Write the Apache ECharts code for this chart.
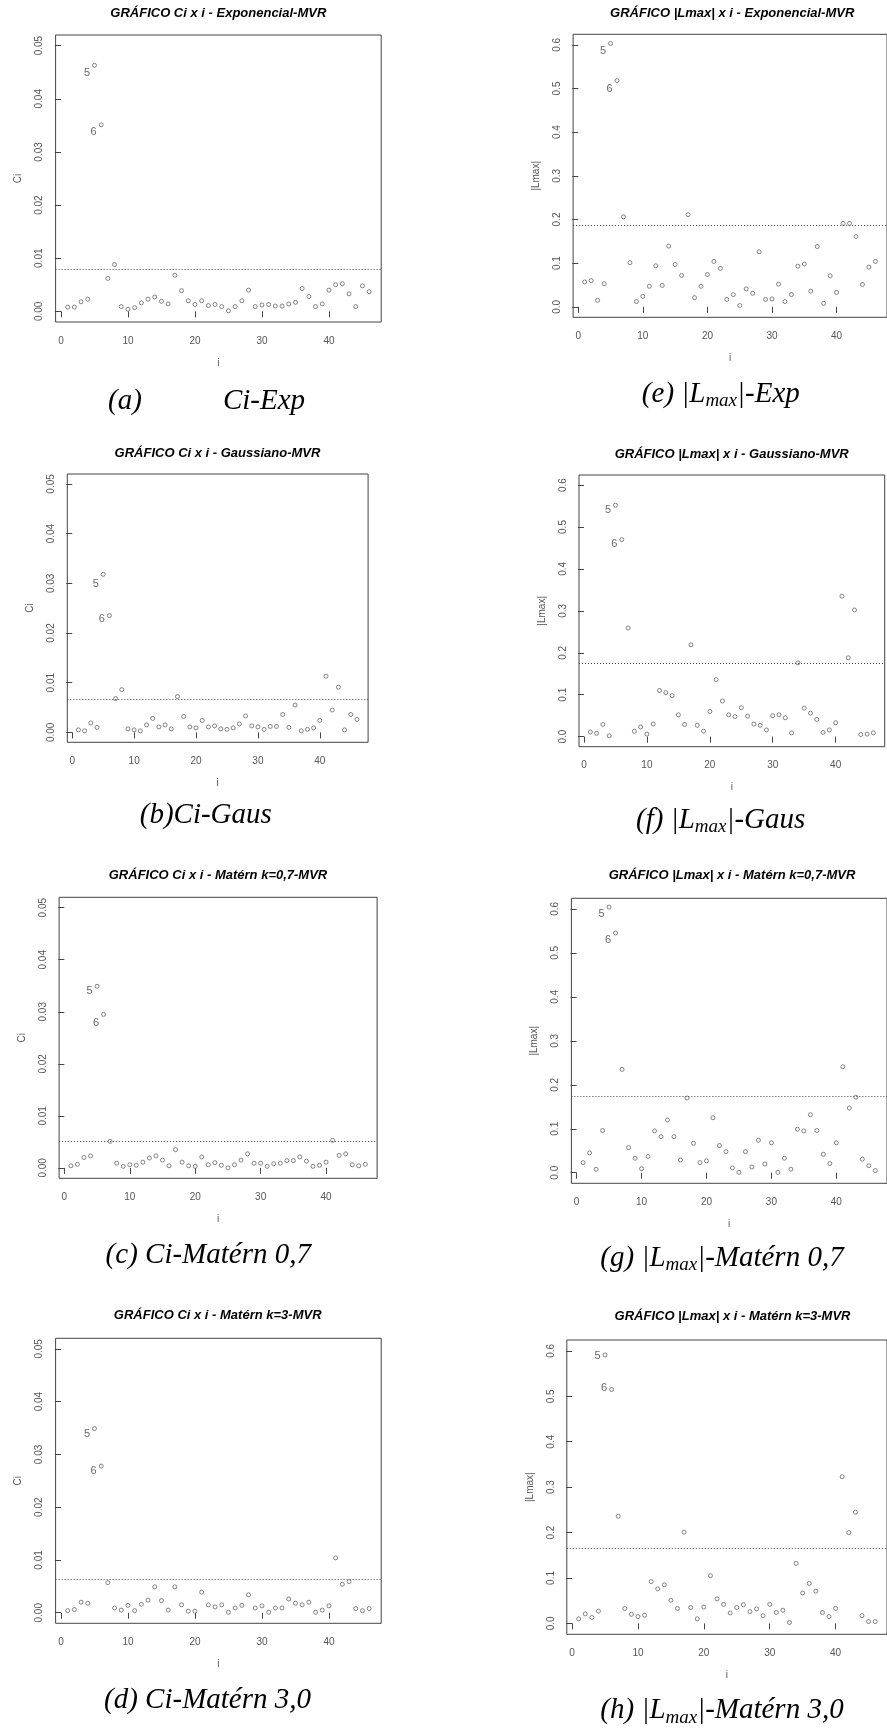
<!DOCTYPE html>
<html>
<head>
<meta charset="utf-8">
<script src="https://cdn.jsdelivr.net/npm/echarts@6/dist/echarts.min.js"></script>
<style>
html, body { margin: 0; padding: 0; background: #fff; }
#main { width: 887px; height: 1731px; }
</style>
</head>
<body>
<div id="main"></div>
<script>
// observation index
var obs = [1,2,3,4,5,6,7,8,9,10,11,12,13,14,15,16,17,18,19,20,21,22,23,24,25,26,27,28,29,30,
           31,32,33,34,35,36,37,38,39,40,41,42,43,44,45,46];

// Ci (Cook distance) per model
var ciExp = [0.0008,0.0008,0.0018,0.0023,0.0463,0.0351,0.0062,0.0088,0.0009,0.0004,0.0007,0.0016,0.0023,0.0027,0.0019,0.0014,
             0.0068,0.0039,0.0020,0.0013,0.0020,0.0011,0.0013,0.0009,0.0001,0.0009,0.0020,0.0040,0.0009,0.0012,0.0013,0.0010,
             0.0010,0.0014,0.0017,0.0043,0.0028,0.0009,0.0014,0.0040,0.0050,0.0052,0.0033,0.0009,0.0048,0.0037];
var ciGaus = [0.0005,0.0003,0.0019,0.0010,0.0318,0.0235,0.0068,0.0086,0.0007,0.0005,0.0003,0.0015,0.0028,0.0011,0.0015,0.0007,
              0.0072,0.0032,0.0011,0.0009,0.0024,0.0011,0.0013,0.0007,0.0006,0.0009,0.0017,0.0033,0.0013,0.0011,0.0006,0.0012,
              0.0012,0.0036,0.0010,0.0055,0.0003,0.0006,0.0009,0.0024,0.0113,0.0045,0.0091,0.0005,0.0036,0.0026];
var ciMat07 = [0.0004,0.0007,0.0020,0.0023,0.0349,0.0295,0.0051,0.0009,0.0003,0.0006,0.0005,0.0011,0.0019,0.0023,0.0015,0.0004,
               0.0035,0.0011,0.0004,0.0003,0.0021,0.0006,0.0010,0.0005,0.0000,0.0006,0.0015,0.0027,0.0009,0.0009,0.0003,0.0008,
               0.0009,0.0014,0.0014,0.0021,0.0013,0.0003,0.0005,0.0011,0.0053,0.0024,0.0027,0.0006,0.0004,0.0007];
var ciMat3 = [0.0004,0.0006,0.0020,0.0018,0.0349,0.0278,0.0057,0.0009,0.0005,0.0014,0.0004,0.0016,0.0024,0.0049,0.0023,0.0005,
              0.0049,0.0015,0.0003,0.0003,0.0039,0.0015,0.0011,0.0015,0.0001,0.0009,0.0014,0.0034,0.0009,0.0013,0.0001,0.0009,
              0.0009,0.0026,0.0018,0.0015,0.0020,0.0001,0.0005,0.0013,0.0104,0.0054,0.0059,0.0008,0.0004,0.0008];

// |Lmax| per model
var lmaxExp = [0.057,0.060,0.015,0.053,0.603,0.518,0.206,0.101,0.012,0.024,0.047,0.094,0.049,0.139,0.097,0.072,
               0.211,0.021,0.047,0.074,0.104,0.088,0.017,0.028,0.003,0.041,0.031,0.126,0.017,0.018,0.052,0.012,
               0.028,0.093,0.098,0.036,0.138,0.008,0.071,0.033,0.191,0.191,0.161,0.051,0.091,0.104];
var lmaxGaus = [0.011,0.008,0.029,0.002,0.552,0.470,0.259,0.013,0.023,0.006,0.030,0.110,0.105,0.098,0.052,0.029,
                0.219,0.027,0.013,0.060,0.136,0.085,0.052,0.048,0.069,0.049,0.030,0.027,0.016,0.050,0.052,0.045,
                0.009,0.176,0.068,0.056,0.041,0.010,0.016,0.033,0.335,0.188,0.302,0.005,0.006,0.009];
var lmaxMat07 = [0.023,0.045,0.008,0.096,0.604,0.545,0.235,0.057,0.033,0.009,0.037,0.095,0.082,0.120,0.082,0.029,
                 0.170,0.067,0.023,0.027,0.125,0.062,0.048,0.011,0.001,0.048,0.013,0.074,0.020,0.068,0.001,0.033,
                 0.008,0.099,0.095,0.132,0.096,0.042,0.021,0.068,0.241,0.147,0.172,0.031,0.016,0.005];
var lmaxMat3 = [0.010,0.021,0.013,0.027,0.591,0.515,0.236,0.033,0.020,0.015,0.018,0.092,0.076,0.085,0.051,0.033,
                0.201,0.035,0.010,0.036,0.105,0.054,0.042,0.023,0.035,0.041,0.026,0.032,0.017,0.042,0.024,0.029,
                0.002,0.132,0.067,0.088,0.071,0.024,0.015,0.033,0.323,0.200,0.245,0.017,0.004,0.004];

// cut-off lines (Exp, Gaus, Matern 0.7, Matern 3)
var cutCi = [0.0080, 0.0067, 0.0052, 0.0063];
var cutLmax = [0.187, 0.174, 0.175, 0.166];

// tick labels
var iTicks = [0, 10, 20, 30, 40];
var ciTicks = [0, 0.01, 0.02, 0.03, 0.04, 0.05];
var lmaxTicks = [0, 0.1, 0.2, 0.3, 0.4, 0.5, 0.6];

var panels = [
  {vals: ciExp, cut: cutCi[0], ticks: ciTicks, dec: 2, yMin: -0.002, yMax: 0.052, yName: 'Ci',
   grid: [55.6, 35, 325.6, 287], title: ['GRÁFICO Ci x i - Exponencial-MVR', 218.3, 13.3], dy: [7.7, 7]},
  {vals: ciGaus, cut: cutCi[1], ticks: ciTicks, dec: 2, yMin: -0.002, yMax: 0.052, yName: 'Ci',
   grid: [67.3, 474, 300.8, 268.3], title: ['GRÁFICO Ci x i - Gaussiano-MVR', 217.5, 453.3], dy: [9.3, 3.3]},
  {vals: ciMat07, cut: cutCi[2], ticks: ciTicks, dec: 2, yMin: -0.002, yMax: 0.052, yName: 'Ci',
   grid: [59.1, 897.3, 318, 281], title: ['GRÁFICO Ci x i - Matérn k=0,7-MVR', 218, 875], dy: [5, 8.7]},
  {vals: ciMat3, cut: cutCi[3], ticks: ciTicks, dec: 2, yMin: -0.002, yMax: 0.052, yName: 'Ci',
   grid: [55.6, 1338.3, 325.6, 285], title: ['GRÁFICO Ci x i - Matérn k=3-MVR', 217.7, 1315], dy: [5, 4.7]},
  {vals: lmaxExp, cut: cutLmax[0], ticks: lmaxTicks, dec: 1, yMin: -0.024, yMax: 0.624, yName: '|Lmax|',
   grid: [573.1, 34.3, 316.8, 283], title: ['GRÁFICO |Lmax| x i - Exponencial-MVR', 732.2, 13.3], dy: [7.3, 8.3]},
  {vals: lmaxGaus, cut: cutLmax[1], ticks: lmaxTicks, dec: 1, yMin: -0.024, yMax: 0.624, yName: '|Lmax|',
   grid: [579, 475, 305.7, 271.7], title: ['GRÁFICO |Lmax| x i - Gaussiano-MVR', 731.7, 454], dy: [4.7, 4.7]},
  {vals: lmaxMat07, cut: cutLmax[2], ticks: lmaxTicks, dec: 1, yMin: -0.024, yMax: 0.624, yName: '|Lmax|',
   grid: [571.4, 898.3, 322, 285], title: ['GRÁFICO |Lmax| x i - Matérn k=0,7-MVR', 732, 875], dy: [6.7, 7.3]},
  {vals: lmaxMat3, cut: cutLmax[3], ticks: lmaxTicks, dec: 1, yMin: -0.024, yMax: 0.624, yName: '|Lmax|',
   grid: [566.8, 1340, 331.3, 294.3], title: ['GRÁFICO |Lmax| x i - Matérn k=3-MVR', 732.5, 1316], dy: [1, -1.7]}
];

var sans = 'Liberation Sans, Arial, sans-serif';
var serif = 'Liberation Serif, Times New Roman, serif';
var axisGray = '#555';

var grids = [], xAxes = [], yAxes = [], series = [], graphics = [];

panels.forEach(function (p, k) {
  grids.push({
    left: p.grid[0], top: p.grid[1], width: p.grid[2], height: p.grid[3],
    show: true, borderColor: '#444', borderWidth: 1, backgroundColor: 'transparent'
  });
  xAxes.push({
    gridIndex: k, type: 'value', min: -0.8, max: 47.8,
    name: 'i', nameLocation: 'middle', nameGap: 36,
    nameTextStyle: {fontFamily: sans, fontSize: 10, color: axisGray},
    axisLine: {show: false},
    axisTick: {show: true, length: 6, customValues: iTicks, lineStyle: {color: '#444'}},
    axisLabel: {customValues: iTicks, fontFamily: sans, fontSize: 10, color: axisGray, margin: 14},
    splitLine: {show: false}
  });
  yAxes.push({
    gridIndex: k, type: 'value', min: p.yMin, max: p.yMax,
    name: p.yName, nameLocation: 'middle', nameGap: 32, nameRotate: 90,
    nameTextStyle: {fontFamily: sans, fontSize: 10, color: axisGray},
    axisLine: {show: false},
    axisTick: {show: true, length: 6, customValues: p.ticks, lineStyle: {color: '#444'}},
    axisLabel: {customValues: p.ticks, rotate: 90, fontFamily: sans, fontSize: 10, color: axisGray, margin: 11,
      formatter: (function (d) { return function (v) { return v.toFixed(d); }; })(p.dec)},
    splitLine: {show: false}
  });
  series.push({
    type: 'scatter', xAxisIndex: k, yAxisIndex: k,
    symbol: 'circle', symbolSize: 4,
    itemStyle: {color: '#fff', borderColor: '#555', borderWidth: 0.9},
    data: obs.map(function (o, j) {
      var item = {value: [o, p.vals[j]]};
      if (o === 5 || o === 6) {
        item.label = {show: true, formatter: String(o), position: 'left', distance: 2,
          offset: [0, p.dy[o - 5]], fontFamily: sans, fontSize: 11, color: '#444'};
      }
      return item;
    }),
    markLine: {
      silent: true, symbol: 'none', precision: 5, label: {show: false},
      lineStyle: {type: [1, 2], color: '#444', width: 1},
      data: [{yAxis: p.cut}]
    }
  });
  graphics.push({
    type: 'text', x: p.title[1], y: p.title[2],
    style: {text: p.title[0], align: 'center', verticalAlign: 'middle', fill: '#000',
      fontFamily: sans, fontSize: 13, fontWeight: 'bold', fontStyle: 'italic'}
  });
});

// figure captions
var capStyle = {fontFamily: serif, fontSize: 29, fontStyle: 'italic', color: '#000', verticalAlign: 'middle'};
var subStyle = {fontFamily: serif, fontSize: 19, fontStyle: 'italic', color: '#000', verticalAlign: 'middle', padding: [14, 0, 0, 0]};
var captions = [
  ['(a)', 125, 401], ['Ci-Exp', 264, 401],
  ['(b)Ci-Gaus', 205.8, 815],
  ['(c) Ci-Matérn 0,7', 208.3, 1255],
  ['(d) Ci-Matérn 3,0', 207.5, 1700],
  ['{c|(e) |L}{s|max}{c||-Exp}', 720.8, 394],
  ['{c|(f) |L}{s|max}{c||-Gaus}', 720.7, 820],
  ['{c|(g) |L}{s|max}{c||-Matérn 0,7}', 722, 1258.3],
  ['{c|(h) |L}{s|max}{c||-Matérn 3,0}', 722, 1710.7]
];
captions.forEach(function (c) {
  graphics.push({
    type: 'text', x: c[1], y: c[2],
    style: {text: c[0], align: 'center', verticalAlign: 'middle', fill: '#000',
      fontFamily: serif, fontSize: 29, fontStyle: 'italic',
      rich: {c: capStyle, s: subStyle}}
  });
});

var chart = echarts.init(document.getElementById('main'), null, {renderer: 'canvas'});
chart.setOption({
  animation: false,
  backgroundColor: '#fff',
  grid: grids,
  xAxis: xAxes,
  yAxis: yAxes,
  series: series,
  graphic: graphics
});
</script>
</body>
</html>
